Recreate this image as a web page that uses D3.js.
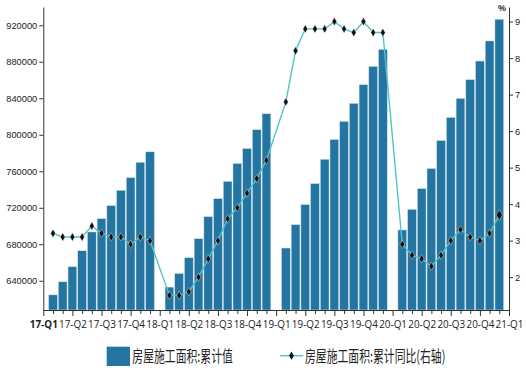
<!DOCTYPE html>
<html>
<head>
<meta charset="utf-8">
<script src="https://cdn.jsdelivr.net/npm/d3@7"></script>
<style>
  body { margin: 0; background: #fff; }
  #chartArea svg { display: block; }
</style>
</head>
<body>
<div id="chartArea"></div>
<script>
// monthly categories, Jan 2017 .. Jan 2021 (Jan has no data, reported with Feb)
var months = [
  "2017-01","2017-02","2017-03","2017-04","2017-05","2017-06","2017-07","2017-08","2017-09","2017-10","2017-11","2017-12",
  "2018-01","2018-02","2018-03","2018-04","2018-05","2018-06","2018-07","2018-08","2018-09","2018-10","2018-11","2018-12",
  "2019-01","2019-02","2019-03","2019-04","2019-05","2019-06","2019-07","2019-08","2019-09","2019-10","2019-11","2019-12",
  "2020-01","2020-02","2020-03","2020-04","2020-05","2020-06","2020-07","2020-08","2020-09","2020-10","2020-11","2020-12",
  "2021-01"
];

// one label every quarter
var quarterLabels = [
  "17-Q1","17-Q2","17-Q3","17-Q4","18-Q1","18-Q2","18-Q3","18-Q4",
  "19-Q1","19-Q2","19-Q3","19-Q4","20-Q1","20-Q2","20-Q3","20-Q4","21-Q1"
];

// 房屋施工面积:累计值
var cumArea = [
  null, 624600, 638900, 655400, 672900, 693500, 708100, 722400, 739200, 753100, 769900, 781300,
  null, 633100, 648000, 665300, 686100, 710300, 730000, 749000, 768500, 784900, 805500, 823000,
  null, 675900, 701500, 723500, 746500, 773200, 794800, 814600, 834400, 854900, 875000, 893600,
  null, 695700, 718300, 741000, 763000, 793700, 819000, 839800, 860400, 880800, 902800, 926600,
  null
];

// 房屋施工面积:累计同比 (%)
var cumYoY = [
  null, 3.2, 3.1, 3.1, 3.1, 3.4, 3.2, 3.1, 3.1, 2.9, 3.1, 3.0,
  null, 1.5, 1.5, 1.6, 2.0, 2.5, 3.0, 3.6, 3.9, 4.3, 4.7, 5.2,
  null, 6.8, 8.2, 8.8, 8.8, 8.8, 9.0, 8.8, 8.7, 9.0, 8.7, 8.7,
  null, 2.9, 2.6, 2.5, 2.3, 2.6, 3.0, 3.3, 3.1, 3.0, 3.2, 3.7,
  null
];

var leftTicks = [640000, 680000, 720000, 760000, 800000, 840000, 880000, 920000];
var rightTicks = [2, 3, 4, 5, 6, 7, 8, 9];

(function() {

    // 1. dimensions
    var width = 526,
        height = 370;
    var barColor = "#2475a2",
        lineColor = "#52c4c8",
        axisColor = "#333";

    // 2. scales
    var x = d3.scalePoint()
        .domain(months)
        .range([43.3, 509]);
    var yL = d3.scaleLinear()
        .domain([608000, 940000])
        .range([310, 7]);
    var yR = d3.scaleLinear()
        .domain([1.1, 9.4])
        .range([310, 7]);

    var svg = d3.select("#chartArea").append("svg")
        .attr("width", width)
        .attr("height", height);

    // 3. bars
    var bars = months.map(function(m, i) { return {m: m, v: cumArea[i]}; })
        .filter(function(d) { return d.v != null; });
    var bw = x.step() * 0.9;

    svg.selectAll(".bar")
        .data(bars)
        .enter().append("rect")
        .attr("class", "bar")
        .attr("x", function(d) { return x(d.m) - bw / 2; })
        .attr("width", bw)
        .attr("y", function(d) { return yL(d.v); })
        .attr("height", function(d) { return yL(yL.domain()[0]) - yL(d.v); })
        .attr("fill", barColor)
        .attr("stroke", "#cfe2ee")
        .attr("stroke-width", 0.5);

    // 4. axes
    var gx = svg.append("g")
        .attr("transform", "translate(0,310)")
        .call(d3.axisBottom(x)
            .tickValues(months)
            .tickSize(4)
            .tickSizeOuter(0)
            .tickFormat(function(d, i) { return i % 3 === 0 ? quarterLabels[i / 3] : ""; }));
    gx.selectAll(".tick line")
        .attr("y2", function(d, i) { return i % 3 === 0 ? 6 : 4; });
    gx.selectAll(".tick text")
        .attr("y", 11)
        .attr("font-family", "'Open Sans', 'Liberation Sans', sans-serif")
        .attr("font-size", "9.9px")
        .attr("fill", "#222")
        .attr("font-weight", function(d, i) { return i === 0 ? "bold" : "normal"; });

    var gl = svg.append("g")
        .attr("transform", "translate(43.3,0)")
        .call(d3.axisLeft(yL)
            .tickValues(leftTicks)
            .tickSize(4)
            .tickSizeOuter(0)
            .tickFormat(d3.format("d")));
    gl.selectAll(".tick text")
        .attr("x", -6)
        .attr("font-family", "'Liberation Sans Narrow', 'Liberation Sans', sans-serif")
        .attr("font-size", "9.3px")
        .attr("fill", "#222");

    var gr = svg.append("g")
        .attr("transform", "translate(509,0)")
        .call(d3.axisRight(yR)
            .tickValues(rightTicks)
            .tickSize(4)
            .tickSizeOuter(0));
    gr.selectAll(".tick text")
        .attr("x", 6)
        .attr("font-family", "'Liberation Sans Narrow', 'Liberation Sans', sans-serif")
        .attr("font-size", "9.3px")
        .attr("fill", "#222");

    svg.selectAll(".domain, .tick line").attr("stroke", axisColor);

    svg.append("text")
        .attr("x", 506)
        .attr("y", 11)
        .attr("text-anchor", "end")
        .attr("font-family", "'Liberation Sans Narrow', 'Liberation Sans', sans-serif")
        .attr("font-size", "9px")
        .attr("font-weight", "bold")
        .attr("fill", "#222")
        .text("%");

    // 5. line on right axis (skips the empty January points)
    var pts = months.map(function(m, i) { return {m: m, v: cumYoY[i]}; })
        .filter(function(d) { return d.v != null; });

    svg.append("path")
        .datum(pts)
        .attr("fill", "none")
        .attr("stroke", lineColor)
        .attr("stroke-width", 1.4)
        .attr("d", d3.line()
            .x(function(d) { return x(d.m); })
            .y(function(d) { return yR(d.v); }));

    svg.selectAll(".dot")
        .data(pts)
        .enter().append("path")
        .attr("class", "dot")
        .attr("transform", function(d) { return "translate(" + x(d.m) + "," + yR(d.v) + ")"; })
        .attr("d", function(d, i) {
            return d3.symbol(d3.symbolDiamond, i === pts.length - 1 ? 32 : 20)();
        })
        .attr("fill", "#111")
        .attr("stroke", "#fff")
        .attr("stroke-width", 0.4);

    // 6. legend
    var lg = svg.append("g");
    lg.append("rect")
        .attr("x", 106.7).attr("y", 346.7)
        .attr("width", 23.3).attr("height", 19.3)
        .attr("fill", barColor);
    lg.append("text")
        .attr("transform", "translate(132.3,356.5) scale(0.7,1)")
        .attr("dy", "0.36em")
        .attr("font-family", "'Noto Sans CJK SC', sans-serif")
        .attr("font-size", "15.5px")
        .attr("fill", "#222")
        .text("房屋施工面积:累计值");

    lg.append("line")
        .attr("x1", 280).attr("x2", 303.3)
        .attr("y1", 355.7).attr("y2", 355.7)
        .attr("stroke", lineColor)
        .attr("stroke-width", 1.4);
    lg.append("path")
        .attr("transform", "translate(291.5,355.7)")
        .attr("d", d3.symbol(d3.symbolDiamond, 20)())
        .attr("fill", "#111");
    lg.append("text")
        .attr("transform", "translate(305,356.5) scale(0.7,1)")
        .attr("dy", "0.36em")
        .attr("font-family", "'Noto Sans CJK SC', sans-serif")
        .attr("font-size", "15.5px")
        .attr("fill", "#222")
        .text("房屋施工面积:累计同比(右轴)");

})();
</script>
</body>
</html>
